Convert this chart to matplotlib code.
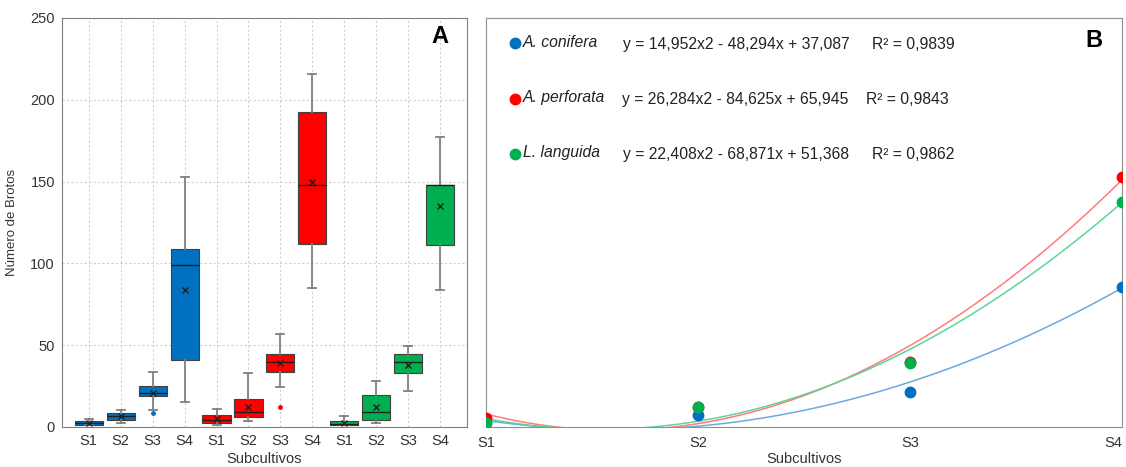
import numpy as np
import matplotlib
matplotlib.use("Agg")
import matplotlib.pyplot as plt

# --- data ---
species = ["A. conifera", "A. perforata", "L. languida"]
subcultivos = ["S1", "S2", "S3", "S4"]
colors = ["#0070C0", "#FF0000", "#00B050"]
line_colors = ["#6FA8DC", "#FF7B7B", "#5FD39A"]

# box statistics per species, S1..S4
whis_lo = [[1, 2.6, 10.4, 15], [1.5, 3.7, 24.3, 85], [1, 2.3, 22.2, 84]]
q1 = [[1.2, 4.3, 19, 41], [2.3, 6, 33.4, 111.7], [1.2, 4.3, 32.8, 111.4]]
med = [[2.2, 7, 20.5, 99], [4, 9.4, 40, 148], [2, 9.4, 40, 148]]
q3 = [[3.7, 8.6, 25, 108.6], [7.3, 17, 44.6, 192.2], [3.7, 19.8, 44.6, 148]]
whis_hi = [[5, 10.4, 33.8, 153], [11, 33, 57, 216], [6.7, 28, 49.5, 177.5]]
means = [[2.5, 7, 21, 84], [5, 12, 39, 150], [2.5, 12, 38, 135]]
outliers = [[[], [], [8.4], []], [[], [], [12.4], []], [[], [], [], []]]

# fitted polynomials (panel B): a*x^2 + b*x + c
coef_a = [14.952, 26.284, 22.408]
coef_b = [-48.294, -84.625, -68.871]
coef_c = [37.087, 65.945, 51.368]
equations = ["y = 14,952x2 - 48,294x + 37,087",
             "y = 26,284x2 - 84,625x + 65,945",
             "y = 22,408x2 - 68,871x + 51,368"]
r2_labels = ["R\u00b2 = 0,9839", "R\u00b2 = 0,9843", "R\u00b2 = 0,9862"]

plt.rcParams['font.family'] = ['Liberation Sans', 'DejaVu Sans']

fig = plt.figure(figsize=(11.26, 4.67), dpi=100)
axA = fig.add_axes([0.055, 0.0857, 0.3597, 0.876])
axB = fig.add_axes([0.4316, 0.0863, 0.5648, 0.875])

# --- PANEL A: box plots ---
stats = []
box_colors = []
for s in range(len(species)):
    for k in range(len(subcultivos)):
        stats.append(dict(whislo=whis_lo[s][k], q1=q1[s][k], med=med[s][k],
                          q3=q3[s][k], whishi=whis_hi[s][k], mean=means[s][k],
                          fliers=outliers[s][k]))
        box_colors.append(colors[s])

positions = np.arange(1, len(stats) + 1)
bp = axA.bxp(stats, positions=positions, widths=0.88, patch_artist=True,
             showmeans=True, capwidths=0.25,
             boxprops=dict(edgecolor='#404040', linewidth=0.8),
             medianprops=dict(color='#202020', linewidth=1.0),
             whiskerprops=dict(color='#808080', linewidth=1.3),
             capprops=dict(color='#808080', linewidth=1.3),
             meanprops=dict(marker='x', markeredgecolor='#202020',
                            markersize=5, markeredgewidth=1.0))
for patch, c in zip(bp['boxes'], box_colors):
    patch.set_facecolor(c)
for fl, c in zip(bp['fliers'], box_colors):
    fl.set(marker='o', markersize=2.5, markerfacecolor=c, markeredgecolor=c)

axA.set_xlim(0.16, 12.84)
axA.set_ylim(0, 250)
axA.set_yticks(np.arange(0, 251, 50))
axA.set_xticks(positions)
axA.set_xticklabels(subcultivos * len(species))
axA.tick_params(length=0, labelsize=10.5, colors='#333333', pad=5)
axA.grid(True, linestyle=(0, (2, 2)), color='#d0d0d0', linewidth=0.8)
axA.set_axisbelow(True)
for sp in axA.spines.values():
    sp.set_color('#808080')
axA.set_ylabel("Número de Brotos", fontsize=9.5, color='#333333', labelpad=9)
axA.set_xlabel("Subcultivos", fontsize=10.5, color='#333333', labelpad=3)
axA.text(0.933, 0.955, "A", transform=axA.transAxes, ha='center', va='center',
         fontsize=17, fontweight='bold')

# --- PANEL B: polynomial trend lines ---
xs = np.linspace(1, 4, 200)
for s in range(len(species)):
    ys = coef_a[s] * xs ** 2 + coef_b[s] * xs + coef_c[s]
    axB.plot(xs, ys, color=line_colors[s], linewidth=1.1, zorder=2)
for s in range(len(species)):
    axB.plot(np.arange(1, 5), means[s], 'o', color=colors[s], markersize=7.5,
             zorder=3)

axB.set_xlim(1, 4)
axB.set_ylim(0, 245)
axB.set_xticks(np.arange(1, 5))
axB.set_xticklabels(subcultivos)
axB.get_xticklabels()[-1].set_ha('right')
axB.set_yticks([])
axB.tick_params(length=0, labelsize=10.5, colors='#333333', pad=7)
for sp in axB.spines.values():
    sp.set_color('#909090')
axB.set_xlabel("Subcultivos", fontsize=10.5, color='#333333', labelpad=1)

row_y = [0.935, 0.800, 0.665]
eq_x = [0.215, 0.2135, 0.215]
r2_x = [0.6075, 0.598, 0.6075]
for s in range(len(species)):
    axB.plot([0.0455], [row_y[s] + 0.003], 'o', color=colors[s], markersize=7.5,
             transform=axB.transAxes, clip_on=False)
    axB.text(0.058, row_y[s] + 0.005, species[s], transform=axB.transAxes,
             ha='left', va='center', fontsize=11.3, style='italic',
             color='#222222')
    axB.text(eq_x[s], row_y[s], equations[s], transform=axB.transAxes,
             ha='left', va='center', fontsize=11.3, color='#222222')
    axB.text(r2_x[s], row_y[s], r2_labels[s], transform=axB.transAxes,
             ha='left', va='center', fontsize=11.3, color='#222222')
axB.text(0.956, 0.946, "B", transform=axB.transAxes, ha='center', va='center',
         fontsize=17, fontweight='bold')

fig.savefig("out.png", dpi=100)
